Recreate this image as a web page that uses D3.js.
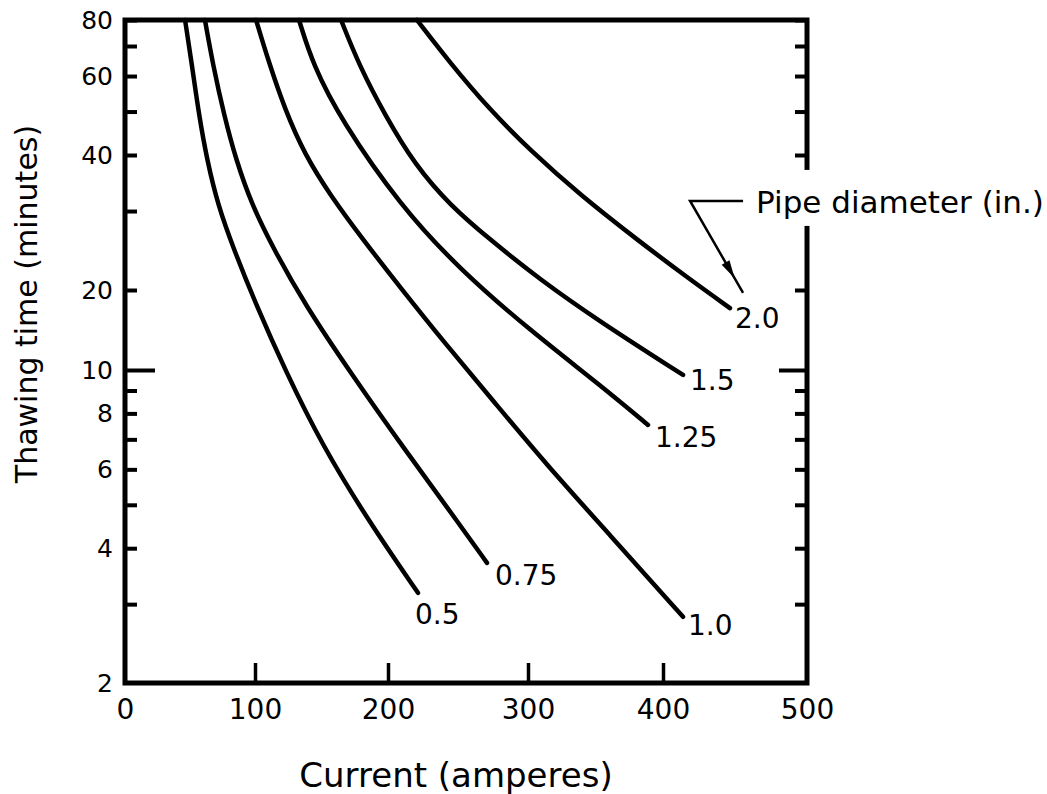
<!DOCTYPE html>
<html>
<head>
<meta charset="utf-8">
<script src="https://cdn.jsdelivr.net/npm/d3@7"></script>
<style>
  body { margin: 0; background: #fff; }
  text { font-family: "DejaVu Sans", sans-serif; fill: #000; }
</style>
</head>
<body>
<svg id="chart" width="1047" height="794"></svg>
<script>
// values (current in amperes, time in minutes)
const diameters = ["0.5", "0.75", "1.0", "1.25", "1.5", "2.0"];
const curve05 = [[46.2,80],[51.5,63.5],[56.9,49.1],[63.1,39],[71.5,30.9],[83.8,24.6],[100.8,17.6],[122.6,10],[150.4,6.8],[185,4.62],[221.4,3.18]];
const curve075 = [[61.5,80],[67.7,63.5],[76.2,49.1],[85.4,39],[97.7,30.9],[114.3,24.6],[137.6,17.6],[171.4,9.9],[212.1,6.63],[251.4,4.51],[270.7,3.71]];
const curve10 = [[100.8,80],[109.8,65.2],[122.6,50.4],[137.6,40],[156.4,32.6],[181.2,25.9],[208.6,20.3],[240.7,12.6],[276.4,8.44],[312.6,6.2],[360.7,4.28],[413.9,2.81]];
const curve125 = [[133.1,80],[143.6,63.5],[164.7,47.9],[208.6,30.9],[251.4,22.2],[301.5,14.1],[353.3,9.26],[388.9,7.54]];
const curve15 = [[164.7,80],[178.2,63.5],[197.7,49.1],[219.3,38],[244.3,30.9],[272.9,25.9],[308.9,21.1],[353.3,15.2],[413.9,9.75]];
const curve20 = [[220.7,80],[244.3,64.2],[272.9,50.4],[301.5,41],[338.5,32.6],[383,25.6],[418.8,21.1],[446.5,17.1]];
const curves = [curve05, curve075, curve10, curve125, curve15, curve20];

const xTicks = [0, 100, 200, 300, 400, 500];
const yTicks = [80, 70, 60, 50, 40, 30, 20, 10, 9, 8, 7, 6, 5, 4, 3];
const yTickLabels = [80, 60, 40, 20, 10, 8, 6, 4, 2];

const pipeNote = { text: "Pipe diameter (in.)", elbow: [418.8, 31.6], barEnd: [455.6, 31.6], textAt: [464.6, 31.6], tip: [455.6, 19.5] };

// layout
const plotLeft = 125, plotRight = 807, plotTop = 20, plotBottom = 683;
const labelOffsets = [[-3, 31], [8, 22], [5, 18], [7, 22], [7, 15], [5, 20]];

const svg = d3.select("#chart");

// the printed axes are not evenly spaced, so the scales are piecewise
const x = d3.scaleLinear().domain(xTicks).range([125, 255, 388, 528, 663, 807]);
const y = d3.scaleLog().domain([2, 10, 20, 80]).range([683, 370, 290, 20]);

// left axis
const gLeft = svg.append("g").attr("transform", `translate(${plotLeft},0)`)
  .call(d3.axisLeft(y).tickValues(yTicks.concat([2])).tickSize(-12).tickPadding(10)
    .tickFormat(d => yTickLabels.includes(d) ? d : ""));
gLeft.select(".domain").remove();
gLeft.selectAll(".tick line").attr("stroke", "#000").attr("stroke-width", 4)
  .attr("x2", d => d == 10 ? 30 : (d == 2 ? 0 : 12));
gLeft.selectAll(".tick text").style("font-size", "25px").attr("x", -12);

// right axis
const gRight = svg.append("g").attr("transform", `translate(${plotRight},0)`)
  .call(d3.axisRight(y).tickValues(yTicks).tickSize(-12).tickFormat(""));
gRight.select(".domain").remove();
gRight.selectAll(".tick line").attr("stroke", "#000").attr("stroke-width", 4)
  .attr("x2", d => d == 10 ? -28 : -12);

// bottom axis
const gBottom = svg.append("g").attr("transform", `translate(0,${plotBottom})`)
  .call(d3.axisBottom(x).tickValues(xTicks).tickSize(-20).tickPadding(14));
gBottom.select(".domain").remove();
gBottom.selectAll(".tick line").attr("stroke", "#000").attr("stroke-width", 3.5)
  .attr("y2", d => (d == 0 || d == 500) ? 0 : -20);
gBottom.selectAll(".tick text").style("font-size", "28px").attr("y", 16).attr("dy", "0.71em");

// frame
svg.append("rect")
  .attr("x", plotLeft).attr("y", plotTop)
  .attr("width", plotRight - plotLeft).attr("height", plotBottom - plotTop)
  .attr("fill", "none").attr("stroke", "#000").attr("stroke-width", 5);

// curves
const line = d3.line()
  .x(d => x(d[0]))
  .y(d => y(d[1]))
  .curve(d3.curveBasis);

svg.append("g").selectAll("path")
  .data(curves)
  .join("path")
  .attr("d", line)
  .attr("fill", "none")
  .attr("stroke", "#000")
  .attr("stroke-width", 4.5)
  .attr("stroke-linecap", "round");

svg.append("g").selectAll("text")
  .data(curves)
  .join("text")
  .attr("x", (d, i) => x(d[d.length - 1][0]) + labelOffsets[i][0])
  .attr("y", (d, i) => y(d[d.length - 1][1]) + labelOffsets[i][1])
  .style("font-size", "28px")
  .text((d, i) => diameters[i]);

// pipe diameter note, with a white patch where it crosses the right axis
const note = svg.append("text")
  .attr("x", x(pipeNote.textAt[0]))
  .attr("y", y(pipeNote.textAt[1]) + 12)
  .style("font-size", "31px")
  .text(pipeNote.text);
const bb = note.node().getBBox();
svg.append("rect")
  .attr("x", bb.x - 4).attr("y", bb.y - 14)
  .attr("width", bb.width + 8).attr("height", bb.height + 20)
  .attr("fill", "#fff");
note.raise();

const ex = x(pipeNote.elbow[0]), ey = y(pipeNote.elbow[1]);
const tx = x(pipeNote.tip[0]), ty = y(pipeNote.tip[1]);
svg.append("path")
  .attr("d", `M${x(pipeNote.barEnd[0])},${y(pipeNote.barEnd[1])}L${ex},${ey}L${tx},${ty}`)
  .attr("fill", "none").attr("stroke", "#000").attr("stroke-width", 2.5);

// arrowhead part way down the leader
const dx = tx - ex, dy = ty - ey, len = Math.hypot(dx, dy);
const ux = dx / len, uy = dy / len;
const hx = ex + dx * 0.84, hy = ey + dy * 0.84;
const bx = hx - ux * 18, by = hy - uy * 18;
svg.append("path")
  .attr("d", `M${hx},${hy}L${bx - uy * 4.5},${by + ux * 4.5}L${bx + uy * 4.5},${by - ux * 4.5}Z`)
  .attr("fill", "#000");

// axis titles
svg.append("text")
  .attr("x", (plotLeft + plotRight) / 2 - 10)
  .attr("y", 787)
  .attr("text-anchor", "middle")
  .style("font-size", "34px")
  .text("Current (amperes)");

svg.append("text")
  .attr("transform", "translate(37,304) rotate(-90)")
  .attr("text-anchor", "middle")
  .style("font-size", "30px")
  .text("Thawing time (minutes)");
</script>
</body>
</html>
